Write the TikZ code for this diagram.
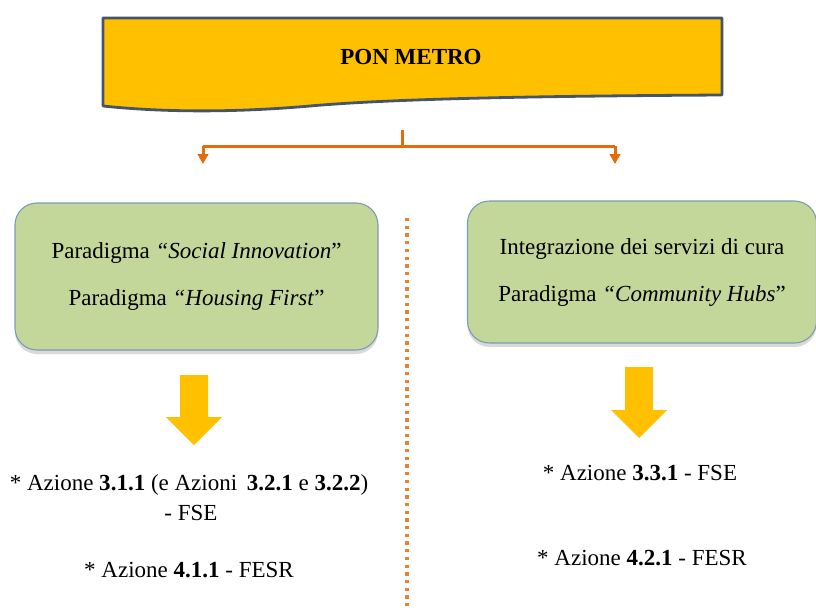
\documentclass[tikz,border=0pt]{standalone}
\usepackage{fontspec}
\setmainfont{Liberation Serif}
\usetikzlibrary{arrows.meta,shadows}

\definecolor{ponyellow}{HTML}{FFC000}
\definecolor{ponslate}{HTML}{44546A}
\definecolor{ponorange}{HTML}{E46C0A}
\definecolor{pongreen}{HTML}{C4D79B}
\definecolor{ponframe}{HTML}{7F9AB4}

\tikzset{
  paradigm/.style={draw=ponframe, fill=pongreen, line width=1.1pt,
    rounded corners=22pt, align=center, font=\fontsize{23}{27}\selectfont,
    drop shadow={opacity=0.3, shadow xshift=0pt, shadow yshift=-4pt}},
  azione/.style={align=center, font=\fontsize{23}{27}\selectfont},
  branch/.style={ponorange, line width=3pt,
    -{Triangle[width=10.5pt,length=10pt]}},
  bigarrow/.style={fill=ponyellow, draw=none}
}

\begin{document}
\begin{tikzpicture}[x=1pt,y=-1pt]
\useasboundingbox (0,0) rectangle (816,610);

%Banner
\draw[fill=ponyellow, draw=ponslate, line width=2.8pt, line join=round]
  (103,18) -- (722,18) -- (722,95)
  .. controls (560,96) and (400,98) .. (310,106)
  .. controls (230,113) and (160,112) .. (103,106) -- cycle;
\node [font=\fontsize{23}{27}\selectfont\bfseries] (pon) at (411,57) {PON METRO};

%Orange fork
\coordinate (stem) at (402,130);
\coordinate (fork) at (402,146);
\coordinate (forkl) at (203,146);
\coordinate (forkr) at (615,146);
\coordinate (tipl) at (203,164);
\coordinate (tipr) at (615,164);
\draw [ponorange, line width=3pt] (stem) to (fork);
\draw [ponorange, line width=3pt] (forkl) to (forkr);
\draw [branch] (forkl) to (tipl);
\draw [branch] (forkr) to (tipr);

%Dotted divider
\coordinate (divtop) at (407,218);
\coordinate (divbot) at (407,606);
\draw [ponorange!85, line width=3.3pt, dash pattern=on 3.3pt off 4.4pt] (divtop) to (divbot);

%Green boxes
\node [paradigm, minimum width=363pt, minimum height=147pt] (social) at (196.5,276.5)
  {Paradigma \textit{“Social Innovation}”\\[20pt]
   Paradigma \textit{“Housing First}”};
\node [paradigm, minimum width=349pt, minimum height=142pt] (hubs) at (642,272)
  {Integrazione dei servizi di cura\\[20pt]
   Paradigma \textit{“Community Hubs}”};

%Yellow arrows
\fill [bigarrow] (180,375) -- (208,375) -- (208,417) -- (222,417)
  -- (194,445) -- (166,417) -- (180,417) -- cycle;
\fill [bigarrow] (625,367) -- (653,367) -- (653,410) -- (667,410)
  -- (639,438) -- (611,410) -- (625,410) -- cycle;

%Actions
\node [azione] (az311) at (189,485) {* Azione \textbf{3.1.1} (e Azioni \,\textbf{3.2.1} e \textbf{3.2.2})};
\node [azione] (fse) at (191,513) {- FSE};
\node [azione] (az411) at (189,570) {* Azione \textbf{4.1.1} - FESR};
\node [azione] (az331) at (640,473) {* Azione \textbf{3.3.1} - FSE};
\node [azione] (az421) at (642,558) {* Azione \textbf{4.2.1} - FESR};
\end{tikzpicture}
\end{document}
